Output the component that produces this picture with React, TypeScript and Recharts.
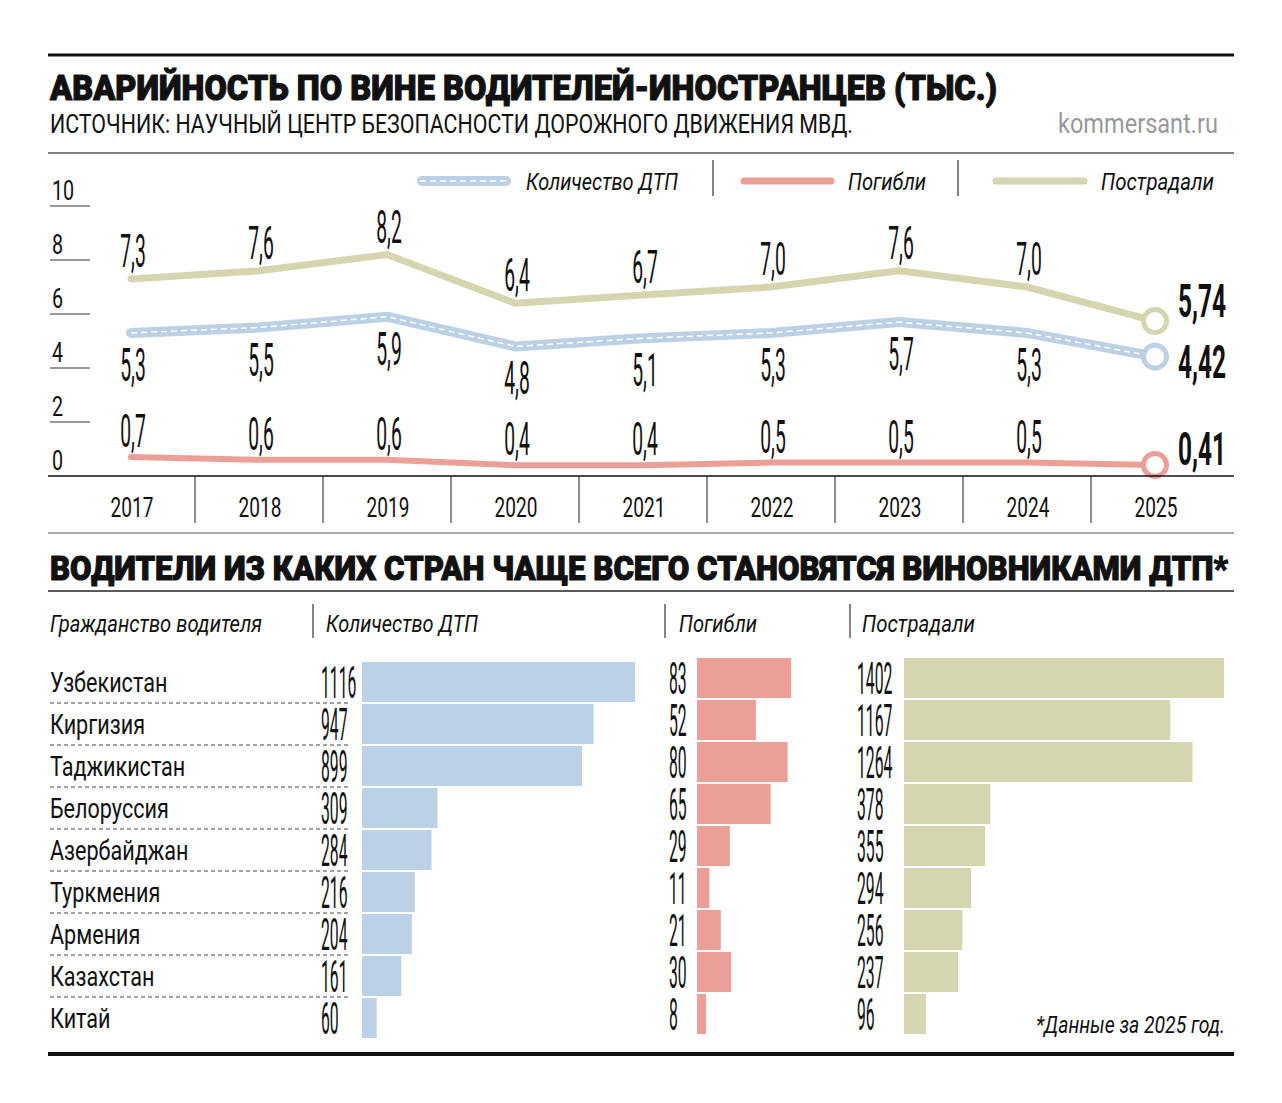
import React from 'react';
import { LineChart, Line, XAxis, YAxis, BarChart, Bar, LabelList } from 'recharts';

// Top chart: thousands per year
const years = ['2017', '2018', '2019', '2020', '2021', '2022', '2023', '2024', '2025'];
const crashes = [5.3, 5.5, 5.9, 4.8, 5.1, 5.3, 5.7, 5.3, 4.42];
const deaths = [0.7, 0.6, 0.6, 0.4, 0.4, 0.5, 0.5, 0.5, 0.41];
const injured = [7.3, 7.6, 8.2, 6.4, 6.7, 7.0, 7.6, 7.0, 5.74];
const yTicks = [0, 2, 4, 6, 8, 10];

// Bottom charts: by driver's country, 2025
const countries = ['Узбекистан', 'Киргизия', 'Таджикистан', 'Белоруссия', 'Азербайджан', 'Туркмения', 'Армения', 'Казахстан', 'Китай'];
const accidents = [1116, 947, 899, 309, 284, 216, 204, 161, 60];
const killed = [83, 52, 80, 65, 29, 11, 21, 30, 8];
const hurt = [1402, 1167, 1264, 378, 355, 294, 256, 237, 96];

const BLUE = '#bdd1e6';
const RED = '#ec9f97';
const OLIVE = '#d5d6b0';
const INK = '#111';
const FONT = 'Roboto, "Liberation Sans", sans-serif';
const HALF_STEP = 64;

const lineData = years.map((year, i) => ({ year, crashes: crashes[i], deaths: deaths[i], injured: injured[i] }));
const barData = countries.map((country, i) => ({ country, accidents: accidents[i], killed: killed[i], hurt: hurt[i] }));

const fmt = (v: number, last: boolean) => (last ? v.toFixed(2) : v.toFixed(1)).replace('.', ',');

const Narrow = ({ x, y, sx, size, weight = 400, anchor = 'start', italic = false, fill = INK, children }: any) => (
  <text
    transform={`translate(${x},${y}) scale(${sx},1)`}
    fontFamily={FONT}
    fontSize={size}
    fontWeight={weight}
    fontStyle={italic ? 'italic' : 'normal'}
    textAnchor={anchor}
    fill={fill}
  >
    {children}
  </text>
);

const Fit = ({ x, y, w, size, weight = 400, italic = false, fill = INK, heavy = false, children }: any) => (
  <text
    x={x}
    y={y}
    textLength={w}
    lengthAdjust="spacingAndGlyphs"
    fontFamily={FONT}
    fontSize={size}
    fontWeight={weight}
    fontStyle={italic ? 'italic' : 'normal'}
    fill={fill}
    stroke={heavy ? fill : 'none'}
    strokeWidth={heavy ? 1.1 : 0}
  >
    {children}
  </text>
);

const makeLineLabel = (dy: number, lastDy: number) => (props: any) => {
  const { x, y, value, index } = props;
  if (index === years.length - 1) {
    return (
      <Narrow x={x + 23} y={y + lastDy} sx={0.52} size={47} weight={700}>
        {fmt(value, true)}
      </Narrow>
    );
  }
  return (
    <Narrow x={x + 2} y={y + dy} sx={0.42} size={46} anchor="middle">
      {fmt(value, false)}
    </Narrow>
  );
};

const endDot = (color: string) => (props: any) => {
  const { cx, cy, index } = props;
  if (index !== years.length - 1) return <g key={`d${index}`} />;
  return <circle key={`d${index}`} cx={cx} cy={cy} r={11.5} fill="#fff" stroke={color} strokeWidth={5} />;
};

const YearTick = (props: any) => {
  const { x, y, payload } = props;
  const i = years.indexOf(payload.value);
  return (
    <g>
      <Narrow x={x + 1} y={y + 41} sx={0.68} size={28} anchor="middle">
        {payload.value}
      </Narrow>
      {i < years.length - 1 && (
        <line x1={x + HALF_STEP} x2={x + HALF_STEP} y1={y} y2={y + 47} stroke="#444" strokeWidth={1.2} />
      )}
    </g>
  );
};

const ValueTick = (props: any) => {
  const { y, payload } = props;
  return (
    <g>
      {payload.value === 0 ? (
        <line x1={48} x2={1234} y1={y} y2={y} stroke={INK} strokeWidth={1.5} />
      ) : (
        <line x1={50} x2={90} y1={y} y2={y} stroke="#333" strokeWidth={1} />
      )}
      <Narrow x={52} y={y - 6} sx={0.73} size={27}>
        {payload.value}
      </Narrow>
    </g>
  );
};

const CountryTick = (props: any) => {
  const { y, payload } = props;
  const i = countries.indexOf(payload.value);
  return (
    <g>
      <Narrow x={50} y={y + 10} sx={0.8} size={27}>
        {payload.value}
      </Narrow>
      {i < countries.length - 1 && (
        <line x1={50} x2={350} y1={y + 21} y2={y + 21} stroke="#444" strokeWidth={1} strokeDasharray="4 3" />
      )}
    </g>
  );
};

const barLabel = (offset: number) => (props: any) => {
  const { x, y, height, value } = props;
  return (
    <Narrow x={x - offset} y={y + height / 2 + 16} sx={0.35} size={45}>
      {value}
    </Narrow>
  );
};

const Background = () => (
  <svg width={1282} height={1103} style={{ position: 'absolute', left: 0, top: 0 }}>
    <line x1={48} x2={1234} y1={55} y2={55} stroke={INK} strokeWidth={3} />
    <Fit x={50} y={100} w={947} size={35} weight={900} heavy>АВАРИЙНОСТЬ ПО ВИНЕ ВОДИТЕЛЕЙ-ИНОСТРАНЦЕВ (ТЫС.)</Fit>
    <Fit x={50} y={133} w={803} size={25}>ИСТОЧНИК: НАУЧНЫЙ ЦЕНТР БЕЗОПАСНОСТИ ДОРОЖНОГО ДВИЖЕНИЯ МВД.</Fit>
    <Fit x={1058} y={133} w={160} size={27} fill="#999">kommersant.ru</Fit>
    <line x1={48} x2={1234} y1={153} y2={153} stroke="#555" strokeWidth={1.5} />

    {/* legend */}
    <line x1={422} x2={506} y1={181} y2={181} stroke={BLUE} strokeWidth={10} strokeLinecap="round" />
    <line x1={420} x2={508} y1={181} y2={181} stroke="#fff" strokeWidth={1.5} strokeDasharray="6 4" />
    <Fit x={526} y={190} w={152} size={24} italic>Количество ДТП</Fit>
    <line x1={713} x2={713} y1={160} y2={196} stroke="#333" strokeWidth={1.2} />
    <line x1={744} x2={831} y1={181} y2={181} stroke={RED} strokeWidth={7} strokeLinecap="round" />
    <Fit x={848} y={190} w={78} size={24} italic>Погибли</Fit>
    <line x1={958} x2={958} y1={160} y2={196} stroke="#333" strokeWidth={1.2} />
    <line x1={996} x2={1084} y1={181} y2={181} stroke={OLIVE} strokeWidth={7} strokeLinecap="round" />
    <Fit x={1101} y={190} w={113} size={24} italic>Пострадали</Fit>

    <line x1={48} x2={1234} y1={533} y2={533} stroke="#555" strokeWidth={1.2} />
    <Fit x={50} y={580} w={1178} size={34} weight={900} heavy>ВОДИТЕЛИ ИЗ КАКИХ СТРАН ЧАЩЕ ВСЕГО СТАНОВЯТСЯ ВИНОВНИКАМИ ДТП*</Fit>
    <line x1={48} x2={1234} y1={591} y2={591} stroke="#222" strokeWidth={1.5} />

    <Fit x={50} y={632} w={212} size={24} italic>Гражданство водителя</Fit>
    <line x1={313} x2={313} y1={604} y2={638} stroke="#333" strokeWidth={1.2} />
    <Fit x={326} y={632} w={152} size={24} italic>Количество ДТП</Fit>
    <line x1={665} x2={665} y1={604} y2={638} stroke="#333" strokeWidth={1.2} />
    <Fit x={679} y={632} w={78} size={24} italic>Погибли</Fit>
    <line x1={850} x2={850} y1={604} y2={638} stroke="#333" strokeWidth={1.2} />
    <Fit x={862} y={632} w={113} size={24} italic>Пострадали</Fit>

    <Fit x={1036} y={1033} w={189} size={24} italic>*Данные за 2025 год.</Fit>
    <line x1={48} x2={1234} y1={1054} y2={1054} stroke={INK} strokeWidth={4} />
  </svg>
);

export default function App() {
  return (
    <div style={{ position: 'absolute', left: 0, top: 0, width: 1282, height: 1103, background: '#fff' }}>
      <Background />

      <div style={{ position: 'absolute', left: 0, top: 0 }}>
        <LineChart width={1282} height={540} data={lineData} margin={{ top: 206, right: 63, bottom: 14, left: 27 }}>
          <XAxis
            dataKey="year"
            padding={{ left: HALF_STEP, right: HALF_STEP }}
            axisLine={false}
            tickLine={false}
            tickSize={0}
            tickMargin={0}
            height={50}
            interval={0}
            tick={<YearTick />}
          />
          <YAxis
            domain={[0, 10]}
            ticks={yTicks}
            width={40}
            axisLine={false}
            tickLine={false}
            interval={0}
            tick={<ValueTick />}
          />
          <Line dataKey="injured" stroke={OLIVE} strokeWidth={7} strokeLinecap="round" strokeLinejoin="round" dot={endDot(OLIVE)} isAnimationActive={false}>
            <LabelList dataKey="injured" content={makeLineLabel(-12, -4)} />
          </Line>
          <Line dataKey="crashes" stroke={BLUE} strokeWidth={10} strokeLinecap="round" strokeLinejoin="round" dot={false} isAnimationActive={false}>
            <LabelList dataKey="crashes" content={makeLineLabel(48, 21)} />
          </Line>
          <Line dataKey="crashes" stroke="#fff" strokeWidth={1.5} strokeDasharray="6 4" dot={endDot(BLUE)} isAnimationActive={false} />
          <Line dataKey="deaths" stroke={RED} strokeWidth={6} strokeLinecap="round" strokeLinejoin="round" dot={endDot(RED)} isAnimationActive={false}>
            <LabelList dataKey="deaths" content={makeLineLabel(-10, 0)} />
          </Line>
        </LineChart>
      </div>

      <div style={{ position: 'absolute', left: 0, top: 640 }}>
        <BarChart width={660} height={420} data={barData} layout="vertical" margin={{ top: 21, right: 25, bottom: 21, left: 0 }}>
          <XAxis type="number" domain={[0, 'dataMax']} hide />
          <YAxis type="category" dataKey="country" width={362} axisLine={false} tickLine={false} interval={0} tick={<CountryTick />} />
          <Bar dataKey="accidents" fill={BLUE} barSize={40} isAnimationActive={false}>
            <LabelList dataKey="accidents" content={barLabel(41)} />
          </Bar>
        </BarChart>
      </div>

      <div style={{ position: 'absolute', left: 650, top: 640 }}>
        <BarChart width={200} height={420} data={barData} layout="vertical" margin={{ top: 17, right: 59, bottom: 25, left: 47 }}>
          <XAxis type="number" domain={[0, 'dataMax']} hide />
          <YAxis type="category" dataKey="country" hide />
          <Bar dataKey="killed" fill={RED} barSize={40} isAnimationActive={false}>
            <LabelList dataKey="killed" content={barLabel(28)} />
          </Bar>
        </BarChart>
      </div>

      <div style={{ position: 'absolute', left: 850, top: 640 }}>
        <BarChart width={400} height={420} data={barData} layout="vertical" margin={{ top: 17, right: 26, bottom: 25, left: 54 }}>
          <XAxis type="number" domain={[0, 'dataMax']} hide />
          <YAxis type="category" dataKey="country" hide />
          <Bar dataKey="hurt" fill={OLIVE} barSize={40} isAnimationActive={false}>
            <LabelList dataKey="hurt" content={barLabel(47)} />
          </Bar>
        </BarChart>
      </div>
    </div>
  );
}
